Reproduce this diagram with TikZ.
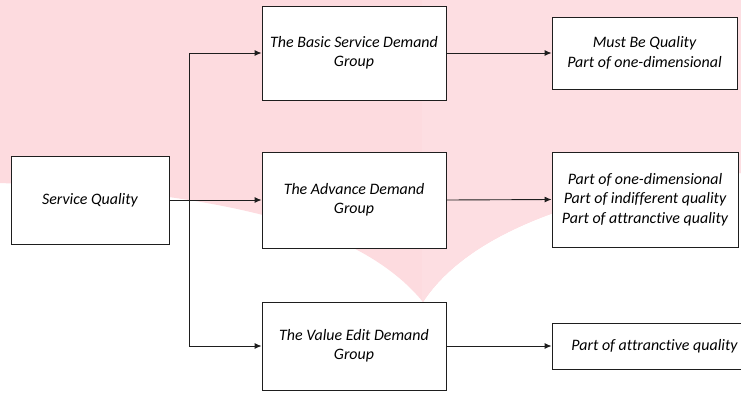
\documentclass[tikz,border=0pt]{standalone}
\usepackage{fontspec}
\setmainfont{Carlito}[Ligatures=NoCommon]
\usetikzlibrary{arrows.meta}
\definecolor{pinkA}{RGB}{253,219,223}
\definecolor{pinkB}{RGB}{253,222,226}
\definecolor{edge}{RGB}{30,30,30}
\tikzset{
  box/.style={draw=edge, line width=0.9pt, fill=white, align=center, inner sep=2pt,
    font=\fontsize{16}{19.5}\selectfont\itshape},
  link/.style={draw=edge, line width=0.9pt, -{Latex[length=7bp,width=6bp]}},
  plain/.style={draw=edge, line width=0.9pt}
}
\begin{document}
\begin{tikzpicture}[x=1bp,y=-1bp]
\useasboundingbox (0,0) rectangle (741,392);
\clip (0,0) rectangle (741,392);
% watermark shape
\path[fill=pinkA] (0,0) -- (741,0) -- (741,173)
  .. controls (590,190) and (470,230) .. (423,302)
  .. controls (360,225) and (220,192) .. (0,183) -- cycle;
\begin{scope}
\clip (422,0) rectangle (741,392);
\path[fill=pinkB] (0,0) -- (741,0) -- (741,173)
  .. controls (590,190) and (470,230) .. (423,302)
  .. controls (360,225) and (220,192) .. (0,183) -- cycle;
\end{scope}
% nodes
\node[box, minimum width=158bp, minimum height=88bp] (sq) at (90,200) {Service Quality};
\node[box, minimum width=184bp, minimum height=94bp] (basic) at (354,53) {The Basic Service Demand\\Group};
\node[box, minimum width=184bp, minimum height=96bp] (adv) at (354,200) {The Advance Demand\\Group};
\node[box, minimum width=184bp, minimum height=88bp] (val) at (354,346) {The Value Edit Demand\\Group};
\node[box, minimum width=185bp, minimum height=72bp] (r1) at (644.5,53) {Must Be Quality\\Part of one-dimensional};
\node[box, minimum width=186bp, minimum height=95bp] (r2) at (645,199.5) {Part of one-dimensional\\Part of indifferent quality\\Part of attranctive quality};
\node[box, minimum width=205bp, minimum height=46bp] (r3) at (654.5,346) {Part of attranctive quality};
% connectors
\coordinate (j) at (189,200);
\draw[link] (sq.east) -- (adv.west);
\draw[link] (j) |- (basic.west);
\draw[link] (j) |- (val.west);
\draw[link] (basic.east) -- (r1.west);
\draw[link] (adv.east) -- (r2.west);
\draw[link] (val.east) -- (r3.west);
\end{tikzpicture}
\end{document}
